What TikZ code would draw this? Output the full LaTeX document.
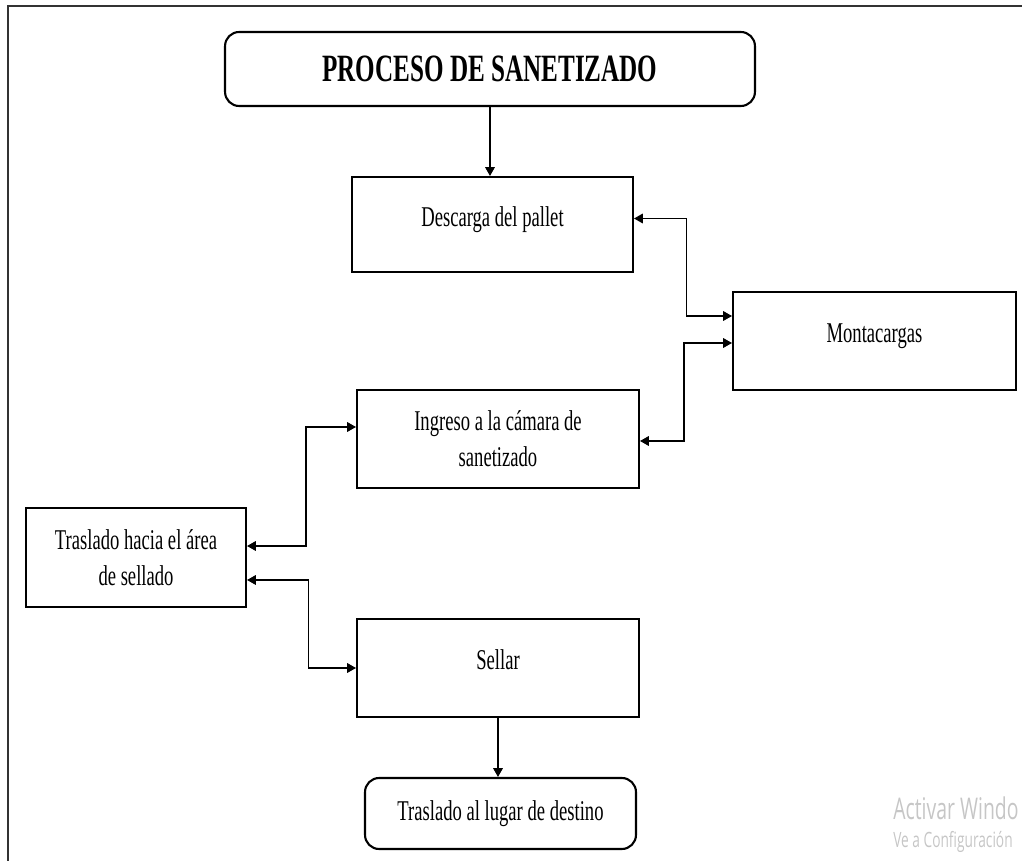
\documentclass[tikz,border=0pt]{standalone}
\usepackage{fontspec}
\setmainfont{Liberation Serif}[FakeStretch=0.65]
\newfontfamily\marcaagua{Open Sans}[FakeStretch=0.65]
\usetikzlibrary{arrows.meta}

\tikzset{
  caja/.style={draw, line width=1.2pt, align=center, inner sep=0pt,
    font=\fontsize{16.3}{20.5}\selectfont},
  unalinea/.style={text height=11pt, text depth=9pt},
  flecha/.style={line width=0.6pt, -{Triangle[length=5pt,width=5.5pt]}},
  dobleflecha/.style={line width=0.6pt,
    {Triangle[length=5pt,width=5.5pt]}-{Triangle[length=5pt,width=5.5pt]}},
  marca/.style={anchor=west, inner sep=0pt, text=gray!45}
}

\begin{document}
\begin{tikzpicture}[x=0.02cm, y=-0.02cm]
\useasboundingbox (0,0) rectangle (1022,861);
\draw[line width=1.2pt, black!80] (8,870) -- (8,6) -- (1030,6);

% cajas
\node[caja, rounded corners=8pt, minimum width=10.6cm, minimum height=1.48cm,
  font=\bfseries\fontsize{22}{26}\selectfont] (titulo) at (490,69) {PROCESO DE SANETIZADO};
\node[caja, unalinea, minimum width=5.62cm, minimum height=1.9cm] (descarga) at (492.5,224.5) {Descarga del pallet};
\node[caja, unalinea, minimum width=5.66cm, minimum height=1.96cm] (montacargas) at (874.5,341) {Montacargas};
\node[caja, minimum width=5.64cm, minimum height=1.96cm] (ingreso) at (498,439) {Ingreso a la cámara de\\sanetizado};
\node[caja, minimum width=4.4cm, minimum height=1.98cm] (traslado) at (136,557.5) {Traslado hacia el área\\de sellado};
\node[caja, unalinea, minimum width=5.64cm, minimum height=1.96cm] (sellar) at (498,668) {Sellar};
\node[caja, rounded corners=8pt, minimum width=5.42cm, minimum height=1.42cm] (destino) at (500.5,813.5) {Traslado al lugar de destino};

% conectores
\draw[flecha] (titulo.south) -- (titulo.south |- descarga.north);
\draw[dobleflecha] ([yshift=0.12cm]descarga.east) -- ++(52,0) |- ([yshift=0.5cm]montacargas.west);
\draw[dobleflecha] ([yshift=-0.04cm]montacargas.west) -- ++(-48,0) |- ([yshift=-0.04cm]ingreso.east);
\draw[dobleflecha] ([yshift=0.24cm]ingreso.west) -- ++(-50,0) |- ([yshift=0.23cm]traslado.east);
\draw[dobleflecha] ([yshift=-0.45cm]traslado.east) -- ++(61,0) |- (sellar.west);
\draw[flecha] (sellar.south) -- (sellar.south |- destino.north);

% marca de agua
\node[marca, font=\marcaagua\fontsize{17}{20}\selectfont] (activar) at (893,808) {Activar Windo};
\node[marca, font=\marcaagua\fontsize{12}{15}\selectfont] (config) at (893,842) {Ve a Configuración};
\end{tikzpicture}
\end{document}
